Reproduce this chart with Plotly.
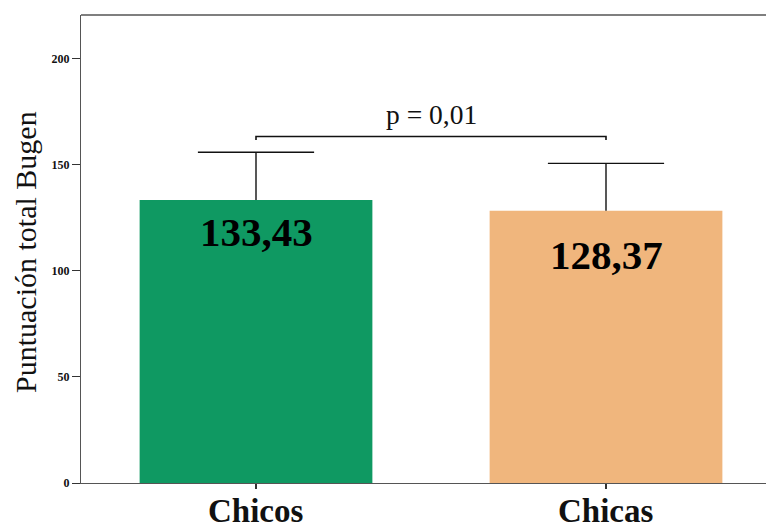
import plotly.graph_objects as go

categories = ["Chicos", "Chicas"]
means = [133.43, 128.37]
sds = [22.5, 22.3]
bar_colors = ["#0F9962", "#F0B67D"]
p_label = "p = 0,01"
y_title = "Puntuación total Bugen"
y_ticks = [0, 50, 100, 150, 200]

SERIF = "Liberation Serif"
pos = list(range(len(categories)))
CAP = 0.166  # half cap width in axis units

fig = go.Figure()
fig.add_trace(go.Bar(
    x=pos, y=means,
    width=0.665,
    marker=dict(color=bar_colors, line=dict(width=0)),
    hoverinfo="skip",
))

# error bars (upper only, cap at top)
ex, ey = [], []
for i, m, s in zip(pos, means, sds):
    ex += [i, i, None, i - CAP, i + CAP, None]
    ey += [m, m + s, None, m + s, m + s, None]
fig.add_trace(go.Scatter(x=ex, y=ey, mode="lines",
                         line=dict(color="#111111", width=1.4), hoverinfo="skip"))

# significance bracket
tops = [m + s for m, s in zip(means, sds)]
bracket_y = max(tops) + 7.4
fig.add_trace(go.Scatter(
    x=[pos[0], pos[0], pos[1], pos[1]],
    y=[bracket_y - 1.7, bracket_y, bracket_y, bracket_y - 1.7],
    mode="lines", line=dict(color="#111111", width=1.6),
    hoverinfo="skip",
))
fig.add_annotation(x=(pos[0] + pos[1]) / 2, y=bracket_y, xref="x", yref="y", text=p_label,
                   showarrow=False, yanchor="bottom", yshift=5,
                   font=dict(family=SERIF, size=27.5, color="#111111"))

# value labels
label_shift = [-7, -19]
for i, m, sh in zip(pos, means, label_shift):
    fig.add_annotation(x=i, y=m, xref="x", yref="y",
                       text=f"{m:.2f}".replace(".", ","),
                       showarrow=False, yanchor="top", yshift=sh,
                       font=dict(family=SERIF, size=41, color="#000000", weight="bold"))

# category labels
for i, c in zip(pos, categories):
    fig.add_annotation(x=i, y=0, xref="x", yref="y", text=c,
                       showarrow=False, yanchor="top", yshift=-8,
                       font=dict(family=SERIF, size=33, color="#111111", weight="bold"))

# y title
fig.add_annotation(x=0, y=0.5, xref="paper", yref="paper", text=y_title,
                   textangle=-90, showarrow=False, xanchor="center", yanchor="middle",
                   xshift=-56, yshift=-3,
                   font=dict(family=SERIF, size=30, color="#111111"))

# top border
fig.add_shape(type="line", xref="paper", yref="paper", x0=0, x1=1, y0=1, y1=1,
              line=dict(color="#555555", width=1.5))

fig.update_layout(
    width=766, height=516,
    margin=dict(l=73, r=0, t=7, b=41),
    plot_bgcolor="white", paper_bgcolor="white",
    showlegend=False,
    font=dict(family=SERIF),
    xaxis=dict(
        range=[-0.5, 1.48], automargin=False,
        tickvals=pos, showticklabels=False,
        showline=True, linecolor="#555555", linewidth=1.2,
        ticks="outside", ticklen=5, tickcolor="#333333", tickwidth=1.5,
        showgrid=False, zeroline=False,
    ),
    yaxis=dict(
        range=[0, 220.6], automargin=False,
        tickvals=y_ticks,
        showline=True, linecolor="#555555", linewidth=1.2,
        ticks="outside", ticklen=8, tickcolor="#333333", tickwidth=1,
        tickfont=dict(family=SERIF, size=12, color="#111111", weight="bold"),
        showgrid=False, zeroline=False,
    ),
)

fig.write_html("out.html")
